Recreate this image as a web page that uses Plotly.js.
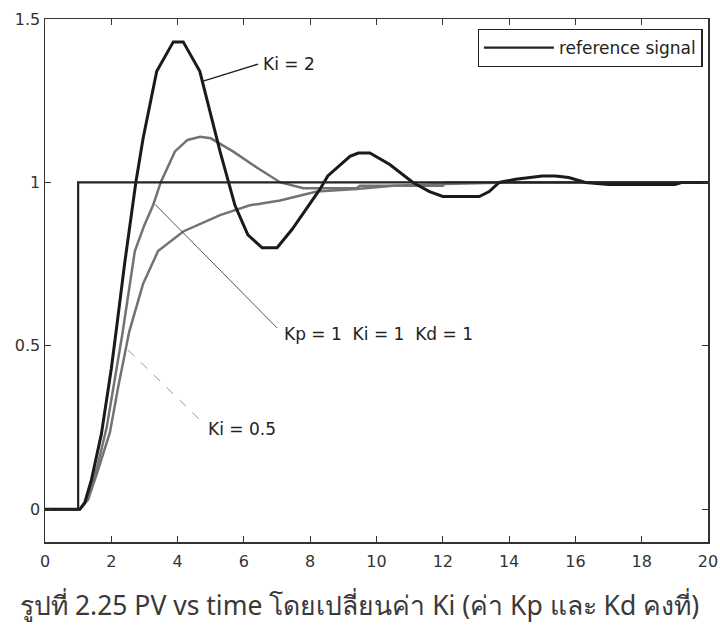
<!DOCTYPE html>
<html>
<head>
<meta charset="utf-8">
<script src="https://cdn.plot.ly/plotly-3.0.1.min.js"></script>
<style>html,body{margin:0;padding:0;background:#fff;}#chart{width:720px;height:627px;}</style>
</head>
<body>
<div id="chart"></div>
<script>
// Reference step signal
const refT = [0, 1, 1, 20];
const refY = [0, 0, 1, 1];

// Ki = 2
const ki2T = [0, 1.05, 1.2, 1.4, 1.7, 2.0, 2.14, 2.4, 2.74, 2.96, 3.37, 3.87, 4.17, 4.67, 5.28, 5.73, 6.12, 6.55, 7.0, 7.45, 8.3, 8.53, 9.2, 9.45, 9.8, 10.4, 11.1, 11.6, 12.0, 13.1, 13.4, 13.7, 14.2, 14.6, 15.0, 15.4, 15.8, 16.3, 17.0, 19.0, 19.2, 20];
const ki2Y = [0, 0, 0.02, 0.09, 0.23, 0.43, 0.54, 0.75, 1.0, 1.135, 1.34, 1.43, 1.43, 1.34, 1.095, 0.93, 0.84, 0.80, 0.80, 0.856, 0.98, 1.02, 1.08, 1.09, 1.09, 1.055, 1.0, 0.972, 0.957, 0.957, 0.972, 1.0, 1.01, 1.015, 1.02, 1.02, 1.015, 1.0, 0.994, 0.994, 1.0, 1.0];

// Kp = 1, Ki = 1, Kd = 1
const ki1T = [0, 1.05, 1.3, 1.6, 1.86, 2.1, 2.34, 2.71, 3.0, 3.26, 3.49, 3.92, 4.3, 4.68, 5.0, 5.67, 6.4, 7.1, 7.8, 9.4, 9.5, 12.0, 12.1, 20];
const ki1Y = [0, 0, 0.035, 0.14, 0.25, 0.39, 0.54, 0.79, 0.87, 0.93, 1.0, 1.095, 1.13, 1.14, 1.135, 1.095, 1.045, 1.0, 0.982, 0.982, 0.99, 0.99, 1.0, 1.0];

// Ki = 0.5
const ki05T = [0, 1.05, 1.3, 1.6, 1.96, 2.2, 2.54, 2.96, 3.41, 4.17, 5.28, 6.18, 7.09, 8.2, 9.4, 10.5, 12.0, 14.0, 20];
const ki05Y = [0, 0, 0.03, 0.12, 0.236, 0.37, 0.543, 0.69, 0.79, 0.85, 0.90, 0.93, 0.945, 0.972, 0.98, 0.99, 0.995, 1.0, 1.0];

const xTicks = [0, 2, 4, 6, 8, 10, 12, 14, 16, 18, 20];
const yTicks = [0, 0.5, 1, 1.5];
const yTickText = ['0', '0.5', '1', '1.5'];

const legendName = 'reference signal';
const labelKi2 = 'Ki = 2';
const labelKi1 = 'Kp = 1\u00a0\u00a0Ki = 1\u00a0\u00a0Kd = 1';
const labelKi05 = 'Ki = 0.5';
const caption = 'รูปที่ 2.25 PV vs time โดยเปลี่ยนค่า Ki (ค่า Kp และ Kd คงที่)';

const traces = [
  {x: ki05T, y: ki05Y, mode: 'lines', line: {color: '#727272', width: 2.5}, showlegend: false, hoverinfo: 'skip'},
  {x: ki1T, y: ki1Y, mode: 'lines', line: {color: '#727272', width: 2.5}, showlegend: false, hoverinfo: 'skip'},
  {x: ki2T, y: ki2Y, mode: 'lines', line: {color: '#1a1a1a', width: 3}, showlegend: false, hoverinfo: 'skip'},
  {x: refT, y: refY, mode: 'lines', name: legendName, line: {color: '#222', width: 2.2}, showlegend: true}
];

const fontFam = 'DejaVu Sans, sans-serif';

const layout = {
  width: 720, height: 627,
  margin: {l: 45, r: 12, t: 19, b: 85},
  paper_bgcolor: '#ffffff', plot_bgcolor: '#ffffff',
  font: {family: fontFam, color: '#2a2a2a', size: 16},
  xaxis: {
    range: [0, 20], tickvals: xTicks, ticks: 'inside', ticklen: 6, tickcolor: '#333',
    showline: true, linecolor: '#333', linewidth: 1.5, mirror: 'ticks',
    showgrid: false, zeroline: false, tickfont: {family: fontFam, size: 16, color: '#333'}, ticklabelstandoff: 4
  },
  yaxis: {
    range: [-0.1, 1.5], tickvals: yTicks, ticktext: yTickText, ticks: 'inside', ticklen: 6, tickcolor: '#333',
    showline: true, linecolor: '#333', linewidth: 1.5, mirror: 'ticks',
    showgrid: false, zeroline: false, tickfont: {family: fontFam, size: 16, color: '#333'}
  },
  showlegend: true,
  legend: {
    x: 0.992, y: 0.981, xanchor: 'right', yanchor: 'top',
    bordercolor: '#222', borderwidth: 1.2, bgcolor: '#fff',
    font: {family: fontFam, size: 17, color: '#222'}, itemwidth: 70
  },
  shapes: [
    {type: 'line', xref: 'x', yref: 'y', x0: 4.77, y0: 1.31, x1: 6.43, y1: 1.362, line: {color: '#222', width: 1.5}},
    {type: 'line', xref: 'x', yref: 'y', x0: 3.32, y0: 0.933, x1: 7.0, y1: 0.555, line: {color: '#555', width: 1}},
    {type: 'line', xref: 'x', yref: 'y', x0: 2.5, y0: 0.488, x1: 4.68, y1: 0.273, line: {color: '#999', width: 1, dash: 'dash'}}
  ],
  annotations: [
    {x: 6.52, y: 1.362, xref: 'x', yref: 'y', text: labelKi2, showarrow: false, xanchor: 'left', yanchor: 'middle', font: {family: fontFam, size: 17, color: '#222'}},
    {x: 7.15, y: 0.537, xref: 'x', yref: 'y', text: labelKi1, showarrow: false, xanchor: 'left', yanchor: 'middle', font: {family: fontFam, size: 17, color: '#222'}},
    {x: 4.86, y: 0.245, xref: 'x', yref: 'y', text: labelKi05, showarrow: false, xanchor: 'left', yanchor: 'middle', font: {family: fontFam, size: 17, color: '#222'}},
    {x: 0.475, y: -0.12, xref: 'paper', yref: 'paper', text: caption, showarrow: false, xanchor: 'center', yanchor: 'middle', font: {family: 'Noto Sans, sans-serif', size: 26.5, color: '#3a3a3a'}}
  ]
};

Plotly.newPlot('chart', traces, layout, {displayModeBar: false, staticPlot: true});
</script>
</body>
</html>
